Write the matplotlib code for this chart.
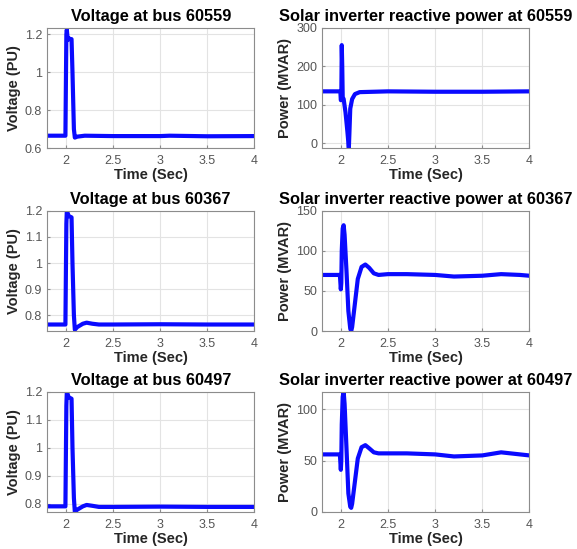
import numpy as np
from matplotlib import pyplot as plt

plt.rcParams['font.family'] = ['Liberation Sans', 'DejaVu Sans']

# bus 60559
t_v1 = [1.8, 1.995, 2.005, 2.01, 2.02, 2.03, 2.05, 2.06, 2.07, 2.085, 2.095, 2.12, 2.2, 2.5, 3.0, 3.1, 3.5, 4.0]
v1 = [0.665, 0.665, 1.20, 1.225, 1.17, 1.18, 1.175, 1.175, 1.0, 0.7, 0.655, 0.66, 0.665, 0.663, 0.663, 0.665, 0.662, 0.663]
t_q1 = [1.8, 1.995, 2.0, 2.005, 2.01, 2.015, 2.02, 2.03, 2.05, 2.07, 2.085, 2.09, 2.1, 2.12, 2.15, 2.2, 2.5, 3.0, 3.5, 4.0]
q1 = [135, 135, 112, 115, 255, 200, 120, 115, 80, 30, -12, 20, 90, 115, 128, 133, 135, 134, 134, 135]

# bus 60367
t_v2 = [1.8, 1.995, 2.005, 2.01, 2.02, 2.03, 2.06, 2.07, 2.085, 2.095, 2.12, 2.18, 2.22, 2.28, 2.35, 2.5, 3.0, 3.5, 4.0]
v2 = [0.765, 0.765, 1.15, 1.20, 1.19, 1.18, 1.175, 1.0, 0.8, 0.745, 0.755, 0.768, 0.772, 0.768, 0.765, 0.765, 0.766, 0.765, 0.765]
t_q = [1.8, 1.99, 2.0, 2.005, 2.01, 2.02, 2.03, 2.04, 2.06, 2.08, 2.1, 2.11, 2.12, 2.15, 2.18, 2.22,
       2.26, 2.3, 2.35, 2.4, 2.5, 2.7, 3.0, 3.2, 3.5, 3.7, 3.9, 4.0]
q2 = [70, 70, 52, 60, 100, 128, 132, 120, 75, 25, 3, 0, 5, 35, 65, 80,
      83, 79, 72, 70, 71, 71, 70, 68, 69, 71, 70, 69]

# bus 60497
v3 = [0.79, 0.79, 1.15, 1.20, 1.19, 1.18, 1.175, 1.0, 0.82, 0.77, 0.778, 0.79, 0.795, 0.792, 0.788, 0.788, 0.789, 0.788, 0.788]
q3 = [56, 56, 41, 50, 85, 112, 117, 105, 62, 18, 5, 4, 8, 30, 52, 63,
      65, 62, 58, 57, 57, 57, 56, 54, 55, 58, 56, 55]

buses = ["60559", "60367", "60497"]
volt_series = [(t_v1, v1), (t_v2, v2), (t_v2, v3)]
power_series = [(t_q1, q1), (t_q, q2), (t_q, q3)]
volt_ylim = [(0.6, 1.235), (0.74, 1.2), (0.77, 1.2)]
volt_ticks = [[0.6, 0.8, 1, 1.2], [0.8, 0.9, 1, 1.1, 1.2], [0.8, 0.9, 1, 1.1, 1.2]]
power_ylim = [(-12, 300), (0, 150), (0, 117)]
power_ticks = [[0, 100, 200, 300], [0, 50, 100, 150], [0, 50, 100]]

rows_bottom = [0.7304, 0.397, 0.0675]
row_h = 0.219
left_x = [0.0815, 0.558]
width = 0.3595


def style_axes(ax):
    ax.set_xlim(1.8, 4)
    ax.set_xticks([2, 2.5, 3, 3.5, 4])
    ax.set_xticklabels(['2', '2.5', '3', '3.5', '4'])
    ax.grid(True, color='#e3e3e3', linewidth=0.8)
    ax.set_axisbelow(True)
    for s in ax.spines.values():
        s.set_color('#8c8c8c')
        s.set_linewidth(0.8)
    ax.tick_params(colors='#8c8c8c', labelcolor='#555555', labelsize=9, length=2, direction='in')
    ax.tick_params(axis='x', pad=5)
    ax.set_xlabel('Time (Sec)', fontsize=10.5, fontweight='bold', color='#262626', labelpad=0.5)


fig = plt.figure(figsize=(5.77, 5.49), dpi=100)

for i, bus in enumerate(buses):
    ax = fig.add_axes([left_x[0], rows_bottom[i], width, row_h])
    t, v = volt_series[i]
    ax.plot(t, v, color='#0a0aff', linewidth=3)
    style_axes(ax)
    ax.set_ylim(*volt_ylim[i])
    ax.set_yticks(volt_ticks[i])
    ax.set_yticklabels([f"{y:g}" for y in volt_ticks[i]])
    ax.set_ylabel('Voltage (PU)', fontsize=10.5, fontweight='bold', color='#262626', labelpad=3)
    ax.set_title(f'Voltage at bus {bus}', fontsize=11.8, fontweight='bold', pad=5)

    ax = fig.add_axes([left_x[1], rows_bottom[i], width, row_h])
    t, q = power_series[i]
    ax.plot(t, q, color='#0a0aff', linewidth=3)
    style_axes(ax)
    ax.set_ylim(*power_ylim[i])
    ax.set_yticks(power_ticks[i])
    ax.set_ylabel('Power (MVAR)', fontsize=10.5, fontweight='bold', color='#262626', labelpad=3)
    ax.set_title(f'Solar inverter reactive power at {bus}', fontsize=11.8, fontweight='bold', pad=5)

fig.savefig('out.png', dpi=100)
